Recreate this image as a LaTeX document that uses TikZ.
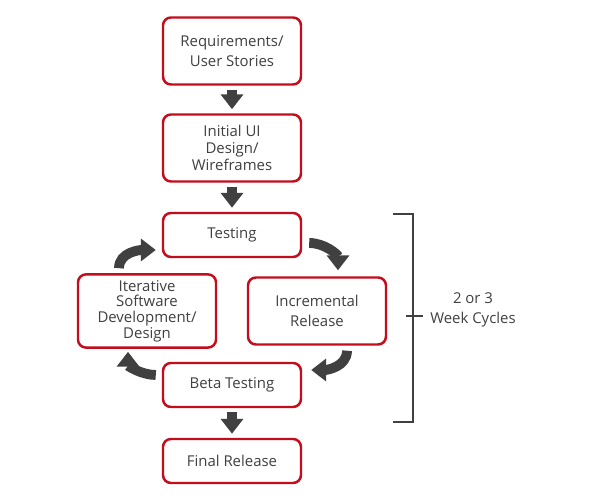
\documentclass[tikz,border=0pt]{standalone}
\usepackage{fontspec}
\setmainfont{Open Sans}
\usetikzlibrary{arrows.meta,calc}
\definecolor{boxred}{RGB}{196,12,28}
\definecolor{inkgray}{RGB}{64,64,64}
\tikzset{
  stage/.style={draw=boxred, line width=1.4pt, rounded corners=4.5pt, fill=white,
    text=inkgray, align=center, minimum width=2.76cm, minimum height=0.88cm,
    font=\fontsize{8.5}{11.3}\selectfont},
  tall/.style={minimum height=1.34cm},
  lines/.style={font=\fontsize{8.5}{#1}\selectfont},
  flow/.style={-{Triangle[width=12.5pt,length=8.5pt]}, line width=5.6pt, draw=inkgray},
  brace/.style={line width=1.1pt, draw=inkgray}
}
\begin{document}
\begin{tikzpicture}[x=0.02cm,y=0.02cm]
\useasboundingbox (0,0) rectangle (600,500);
\node[stage,tall] (req) at (232,449) {Requirements/\\User Stories};
\node[stage,tall,lines=9.7pt] (ui) at (232,352) {Initial UI\\Design/\\Wireframes};
\node[stage] (test) at (232,265) {Testing};
\node[stage,tall,lines=8.9pt] (iter) at (147,189) {Iterative\\Software\\Development/\\Design};
\node[stage,tall] (incr) at (317,189) {Incremental\\Release};
\node[stage] (beta) at (232,115) {Beta Testing};
\node[stage] (final) at (232,39) {Final Release};
\foreach \a/\b in {req/ui, ui/test, beta/final}
  \draw[flow, shorten <=2.3pt, shorten >=2.3pt] (\a) -- (\b);
\draw[flow] ($(test.east)+(7,-8)$) to[out=0,in=90] ($(incr.north)+(21,6)$);
\draw[flow] ($(incr.south)+(30,-5)$) to[out=-90,in=0] ($(beta.east)+(9,15)$);
\draw[flow] ($(beta.west)+(-6,10)$) to[out=180,in=-90] ($(iter.south)+(-19,-3)$);
\draw[flow] ($(iter.north)+(-28,5)$) to[out=90,in=180] ($(test.west)+(-6,-15)$);
\coordinate (bt) at (413,286);
\coordinate (bb) at (413,78);
\coordinate (bm) at (413,184);
\draw[brace] ($(bt)+(-20,0)$) -- (bt) -- (bb) -- ($(bb)+(-20,0)$);
\draw[brace] ($(bm)+(-7,0)$) -- ($(bm)+(10,0)$);
\node[text=inkgray, align=center, font=\fontsize{8.5}{11.3}\selectfont] (cyc) at (473,190) {2 or 3\\Week Cycles};
\end{tikzpicture}
\end{document}
